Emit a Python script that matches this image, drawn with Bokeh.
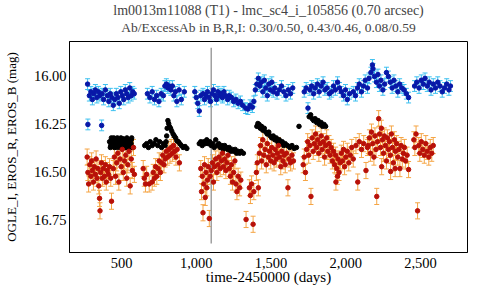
from bokeh.plotting import figure
from bokeh.models import (Range1d, FixedTicker, NumeralTickFormatter, Whisker,
                          TeeHead, ColumnDataSource, Title)
from bokeh.embed import file_html
from bokeh.resources import INLINE

title1 = "lm0013m11088 (T1) - lmc_sc4_i_105856 (0.70 arcsec)"
title2 = "Ab/ExcessAb in B,R,I: 0.30/0.50, 0.43/0.46, 0.08/0.59"
x_label = "time-2450000 (days)"
y_label = "OGLE_I, EROS_R, EROS_B (mag)"
x_ticks = [500, 1000, 1500, 2000, 2500]
y_ticks = [16.00, 16.25, 16.50, 16.75]
event_day = 1100

# EROS_B (blue)
b_day = [273, 275, 285, 295, 305, 315, 325, 335, 345, 355, 367, 370, 380, 392, 405, 415, 425, 435,
         445, 455, 465, 475, 485, 495, 505, 515, 525, 535, 545, 555, 565, 575, 585,
         673, 690, 705, 720, 735, 750, 765, 780, 790, 800, 810, 820, 830, 840, 850, 860, 870, 885, 900, 920,
         990, 1000, 1010, 1020, 1030, 1045, 1055, 1065, 1075, 1085, 1095, 1105, 1115, 1125, 1135, 1145,
         1155, 1165, 1175, 1185, 1195, 1210, 1220, 1235, 1250, 1265, 1280, 1295, 1310,
         1330, 1345, 1360, 1375, 1385, 1395, 1405, 1415, 1425, 1435, 1445, 1455, 1465, 1475, 1485, 1495,
         1505, 1515, 1525, 1540, 1555, 1570, 1585, 1600, 1615, 1630, 1645,
         1722, 1735, 1747, 1760, 1772, 1785, 1795, 1810, 1822, 1835, 1848, 1860, 1875, 1890, 1905, 1918,
         1930, 1945, 1958, 1970, 1985, 1998, 2010, 2025,
         2050, 2065, 2078, 2090, 2105, 2118, 2130, 2145, 2155, 2168, 2178, 2182, 2192, 2205, 2215, 2225,
         2235, 2248, 2260, 2272, 2285, 2298, 2310, 2322, 2335, 2348, 2360, 2375, 2390, 2405, 2420,
         2460, 2475, 2490, 2505, 2518, 2530, 2545, 2558, 2570, 2585, 2600, 2615, 2630, 2645, 2660, 2675, 2690, 2700]
b_mag = [16.04, 16.25, 16.10, 16.08, 16.12, 16.09, 16.07, 16.11, 16.08, 16.10, 16.255, 16.09, 16.12, 16.07, 16.10, 16.13, 16.09, 16.11,
         16.15, 16.12, 16.09, 16.11, 16.14, 16.08, 16.10, 16.12, 16.07, 16.09, 16.11, 16.06, 16.10, 16.08, 16.09,
         16.09, 16.11, 16.08, 16.12, 16.10, 16.13, 16.09, 16.10, 16.05, 16.04, 16.06, 16.05, 16.07, 16.05, 16.10, 16.08, 16.13, 16.07, 16.12, 16.08,
         16.08, 16.11, 16.14, 16.18, 16.10, 16.09, 16.12, 16.10, 16.08, 16.11, 16.13, 16.09, 16.07, 16.10, 16.12, 16.08,
         16.10, 16.09, 16.11, 16.08, 16.10, 16.12, 16.10, 16.11, 16.13, 16.12, 16.14, 16.13, 16.15,
         16.165, 16.17, 16.15, 16.16, 16.13, 16.07, 16.04, 16.01, 16.05, 16.03, 16.08, 16.02, 16.06, 16.10, 16.04, 16.07,
         16.03, 16.08, 16.06, 16.09, 16.07, 16.05, 16.08, 16.10, 16.07, 16.09, 16.06,
         16.08, 16.06, 16.165, 16.07, 16.05, 16.09, 16.06, 16.04, 16.08, 16.05, 16.03, 16.07, 16.06, 16.09, 16.08, 16.05,
         16.07, 16.03, 16.06, 16.08, 16.10, 16.07, 16.12, 16.09,
         16.08, 16.10, 16.06, 16.04, 16.08, 16.05, 16.02, 16.06, 16.01, 15.98, 15.94, 15.96, 16.00, 16.03, 15.99, 16.05,
         16.02, 16.07, 16.04, 15.98, 16.00, 16.03, 16.06, 16.02, 16.05, 16.08, 16.04, 16.06, 16.07, 16.09, 16.11,
         16.05, 16.03, 16.06, 16.02, 16.04, 16.01, 16.05, 16.03, 16.07, 16.04, 16.06, 16.03, 16.05, 16.08, 16.06, 16.04, 16.07, 16.05]
b_err = 0.028

# OGLE_I (black)
k_day = [420, 425, 428, 432, 436, 440, 444, 445, 448, 452, 456, 460, 465, 468, 472, 476, 480, 484, 485, 488,
         492, 496, 500, 505, 508, 512, 516, 520, 524, 525, 528, 532, 536, 540, 545, 548, 552, 556, 560, 564,
         565, 568, 572,
         655, 668, 680, 692, 705, 718, 730, 742, 755, 768, 780, 792,
         798, 802, 805, 810, 815, 820, 828, 836, 845, 853, 862, 870, 880, 890, 900, 912, 925, 937,
         1020, 1030, 1040, 1050, 1060, 1070, 1080, 1090, 1100, 1110, 1120, 1130, 1140, 1150, 1160, 1170,
         1180, 1190, 1200, 1210, 1220, 1230, 1240, 1250, 1260, 1270, 1280, 1290, 1300, 1315,
         1405, 1412, 1420, 1428, 1436, 1445, 1455, 1465, 1475, 1485, 1495, 1505, 1515, 1525, 1535, 1545,
         1555, 1565, 1575, 1585, 1595, 1610, 1625, 1640, 1655, 1670, 1687,
         1755, 1765, 1775, 1785, 1795, 1805, 1815, 1825, 1835, 1845, 1855, 1865]
k_mag = [16.34, 16.37, 16.36, 16.32, 16.33, 16.355, 16.35, 16.33, 16.32, 16.37, 16.345, 16.34, 16.37, 16.36, 16.32, 16.33, 16.355, 16.35, 16.33, 16.37,
         16.37, 16.32, 16.34, 16.37, 16.36, 16.325, 16.33, 16.355, 16.35, 16.33, 16.37, 16.37, 16.32, 16.34, 16.37, 16.36, 16.345, 16.33, 16.37, 16.35,
         16.33, 16.32, 16.37,
         16.36, 16.35, 16.37, 16.34, 16.36, 16.35, 16.33, 16.36, 16.34, 16.37, 16.35, 16.36,
         16.34, 16.31, 16.27, 16.23, 16.245, 16.26, 16.27, 16.285, 16.30, 16.31, 16.32, 16.335, 16.34, 16.35, 16.36, 16.37, 16.365, 16.375,
         16.35, 16.34, 16.36, 16.34, 16.35, 16.33, 16.35, 16.34, 16.36, 16.35, 16.37, 16.33, 16.36, 16.35, 16.37, 16.36,
         16.38, 16.36, 16.37, 16.38, 16.37, 16.39, 16.38, 16.39, 16.38, 16.40, 16.39, 16.40, 16.39, 16.40,
         16.26, 16.245, 16.25, 16.27, 16.26, 16.28, 16.27, 16.29, 16.30, 16.29, 16.31, 16.32, 16.31, 16.33, 16.32, 16.34,
         16.33, 16.35, 16.34, 16.36, 16.35, 16.36, 16.37, 16.36, 16.375, 16.37, 16.26,
         16.21, 16.20, 16.22, 16.23, 16.22, 16.24, 16.23, 16.25, 16.24, 16.26, 16.25, 16.26]

# EROS_R (red)
r_day = [270, 275, 280, 288, 295, 300, 305, 312, 318, 325, 330, 336, 342, 348, 353, 356, 360, 366, 372, 378,
         385, 392, 398, 405, 412, 420, 428, 433,
         445, 452, 460, 468, 475, 482, 490, 498, 505, 512, 520, 528, 535, 542, 550, 558, 565, 572, 580, 586,
         645, 652, 660, 668, 685, 705, 712, 720, 728, 736, 745, 752, 760, 768, 776, 784, 792, 800, 808, 816,
         824, 832, 840, 848, 856, 864, 872, 887,
         1030, 1035, 1040, 1045, 1050, 1055, 1060, 1065, 1070, 1075, 1080, 1087, 1093, 1100, 1108, 1115,
         1122, 1130, 1138, 1145, 1152, 1160, 1168, 1175, 1182, 1190, 1198, 1205, 1212, 1220, 1228, 1235,
         1242, 1250, 1258, 1265, 1272, 1280, 1290, 1298,
         1333, 1355, 1362, 1370, 1380, 1385,
         1402, 1408, 1415, 1422, 1430, 1437, 1445, 1452, 1460, 1468, 1475, 1482, 1490, 1498, 1505, 1512,
         1520, 1528, 1535, 1542, 1550, 1558, 1565, 1572, 1580, 1588, 1595, 1603, 1613, 1620, 1630, 1640, 1650,
         1715, 1722, 1730, 1738, 1745, 1752, 1760, 1767, 1775, 1782, 1790, 1798, 1805, 1812, 1820, 1828,
         1835, 1842, 1850, 1858, 1865, 1872, 1880, 1888, 1895, 1902, 1910, 1918, 1925, 1932, 1934, 1940,
         1945, 1948, 1955, 1962, 1970, 1978, 1985, 1992, 2000, 2010, 2020, 2030, 2040, 2050,
         2068, 2080, 2090, 2105, 2120, 2135, 2145,
         2150, 2158, 2165, 2172, 2180, 2188, 2195, 2202, 2207, 2212, 2220, 2226, 2232, 2238, 2240, 2245,
         2252, 2258, 2265, 2272, 2278, 2285, 2292, 2298, 2300, 2305, 2312, 2318, 2325, 2330, 2332, 2340,
         2348, 2355, 2362, 2370, 2378, 2385, 2392, 2400, 2410, 2420,
         2455, 2462, 2470, 2480, 2488, 2495, 2505, 2515, 2525, 2535, 2545, 2555, 2565, 2575, 2585]
r_mag = [16.42, 16.50, 16.56, 16.46, 16.52, 16.44, 16.49, 16.55, 16.47, 16.51, 16.43, 16.53, 16.48, 16.57, 16.635, 16.70, 16.50, 16.45, 16.53, 16.48,
         16.52, 16.46, 16.55, 16.49, 16.51, 16.47, 16.53, 16.65,
         16.48, 16.42, 16.52, 16.45, 16.40, 16.55, 16.43, 16.47, 16.38, 16.50, 16.44, 16.41, 16.53, 16.46, 16.39, 16.57, 16.43, 16.49, 16.37, 16.51,
         16.48, 16.53, 16.56, 16.51, 16.56, 16.55, 16.50, 16.53, 16.47, 16.52, 16.48, 16.44, 16.50, 16.45, 16.41, 16.46, 16.43, 16.39, 16.42, 16.38,
         16.41, 16.37, 16.40, 16.36, 16.39, 16.42, 16.38, 16.45,
         16.48, 16.60, 16.52, 16.71, 16.56, 16.46, 16.63, 16.50, 16.58, 16.54, 16.47, 16.74, 16.52, 16.49, 16.45, 16.55,
         16.47, 16.43, 16.50, 16.46, 16.42, 16.48, 16.44, 16.40, 16.47, 16.43, 16.49, 16.45, 16.41, 16.48, 16.52, 16.46,
         16.55, 16.50, 16.44, 16.56, 16.60, 16.52, 16.58, 16.54,
         16.745, 16.58, 16.62, 16.56, 16.77, 16.60,
         16.50, 16.45, 16.58, 16.40, 16.36, 16.44, 16.33, 16.41, 16.38, 16.46, 16.35, 16.42, 16.39, 16.44, 16.37, 16.41,
         16.45, 16.38, 16.43, 16.40, 16.36, 16.42, 16.47, 16.39, 16.44, 16.41, 16.46, 16.40, 16.58, 16.43, 16.45, 16.41, 16.44,
         16.46, 16.42, 16.50, 16.38, 16.34, 16.41, 16.36, 16.625, 16.32, 16.39, 16.35, 16.30, 16.37, 16.33, 16.40, 16.35,
         16.31, 16.38, 16.34, 16.42, 16.36, 16.32, 16.39, 16.35, 16.41, 16.37, 16.44, 16.39, 16.46, 16.41, 16.55, 16.48,
         16.52, 16.43, 16.50, 16.45, 16.40, 16.44, 16.38, 16.47, 16.42, 16.39, 16.45, 16.41, 16.37, 16.43,
         16.36, 16.55, 16.34, 16.38, 16.35, 16.49, 16.37,
         16.36, 16.32, 16.40, 16.29, 16.35, 16.42, 16.31, 16.38, 16.625, 16.34, 16.22, 16.30, 16.37, 16.27, 16.47, 16.33,
         16.40, 16.31, 16.36, 16.44, 16.32, 16.38, 16.34, 16.41, 16.495, 16.30, 16.37, 16.45, 16.33, 16.48, 16.39, 16.35,
         16.42, 16.38, 16.48, 16.36, 16.43, 16.40, 16.37, 16.44, 16.41, 16.485,
         16.33, 16.37, 16.30, 16.70, 16.36, 16.40, 16.34, 16.38, 16.41, 16.35, 16.39, 16.42, 16.37, 16.40, 16.36]
r_err = 0.042

SERIF = "Liberation Serif, serif"

p = figure(frame_width=398, frame_height=211, output_backend="svg", toolbar_location=None,
           x_range=Range1d(152, 2814), y_range=Range1d(16.917, 15.818),
           min_border_left=65, min_border_right=1, min_border_top=38, min_border_bottom=38)
p.title.text = ""
# small spacer between the sub-title and the frame
p.add_layout(Title(text=" ", text_font=SERIF, text_font_size="4px", standoff=0, offset=0), "above")
p.add_layout(Title(text=title2, align="center", text_font=SERIF, text_font_size="13.5px",
                   text_font_style="normal", standoff=0, offset=0), "above")
p.add_layout(Title(text=title1, align="center", text_font=SERIF, text_font_size="14px",
                   text_font_style="normal", standoff=0, offset=0), "above")

p.xgrid.visible = False
p.ygrid.visible = False
p.outline_line_color = "black"
p.outline_line_width = 1
p.background_fill_color = "white"
p.border_fill_color = "white"

for ax in (p.xaxis[0], p.yaxis[0]):
    ax.axis_line_color = "black"
    ax.major_tick_line_color = None
    ax.minor_tick_line_color = None
    ax.major_tick_out = 0
    ax.major_tick_in = 0
    ax.minor_tick_out = 0
    ax.minor_tick_in = 0
    ax.major_label_text_font = SERIF
    ax.major_label_text_font_size = "14.5px"
    ax.major_label_text_color = "black"
    ax.axis_label_text_font = SERIF
    ax.axis_label_text_font_style = "normal"
    ax.axis_label_text_color = "black"

p.xaxis[0].ticker = FixedTicker(ticks=x_ticks)
p.xaxis[0].formatter = NumeralTickFormatter(format="0,0")
p.xaxis[0].axis_label = x_label
p.xaxis[0].axis_label_text_font_size = "15px"
p.xaxis[0].major_label_standoff = 5
p.xaxis[0].axis_label_standoff = -2

p.yaxis[0].ticker = FixedTicker(ticks=y_ticks)
p.yaxis[0].formatter = NumeralTickFormatter(format="0.00")
p.yaxis[0].axis_label = y_label
p.yaxis[0].axis_label_text_font_size = "13px"
p.yaxis[0].major_label_standoff = 3
p.yaxis[0].axis_label_standoff = 12

# event line
p.segment(x0=[event_day], y0=[15.85], x1=[event_day], y1=[16.87], line_color="#a0a0a0", line_width=1.5)

# blue
bsrc = ColumnDataSource(dict(t=b_day, m=b_mag,
                             lo=[m - b_err for m in b_mag], hi=[m + b_err for m in b_mag]))
p.add_layout(Whisker(base="t", lower="lo", upper="hi", source=bsrc, line_color="#3cc0f0", line_width=1,
                     upper_head=TeeHead(size=5, line_color="#3cc0f0"),
                     lower_head=TeeHead(size=5, line_color="#3cc0f0")))
p.scatter("t", "m", source=bsrc, size=4.5, fill_color="#0818a8", line_color="#0818a8")

# black
p.scatter(k_day, k_mag, size=4.5, fill_color="black", line_color="black")

# red
rsrc = ColumnDataSource(dict(t=r_day, m=r_mag,
                             lo=[m - r_err for m in r_mag], hi=[m + r_err for m in r_mag]))
p.add_layout(Whisker(base="t", lower="lo", upper="hi", source=rsrc, line_color="#f5a545", line_width=1,
                     upper_head=TeeHead(size=5, line_color="#f5a545"),
                     lower_head=TeeHead(size=5, line_color="#f5a545")))
p.scatter("t", "m", source=rsrc, size=4.5, fill_color="#b81008", line_color="#b81008")

open("out.html", "w").write(file_html(p, INLINE))
